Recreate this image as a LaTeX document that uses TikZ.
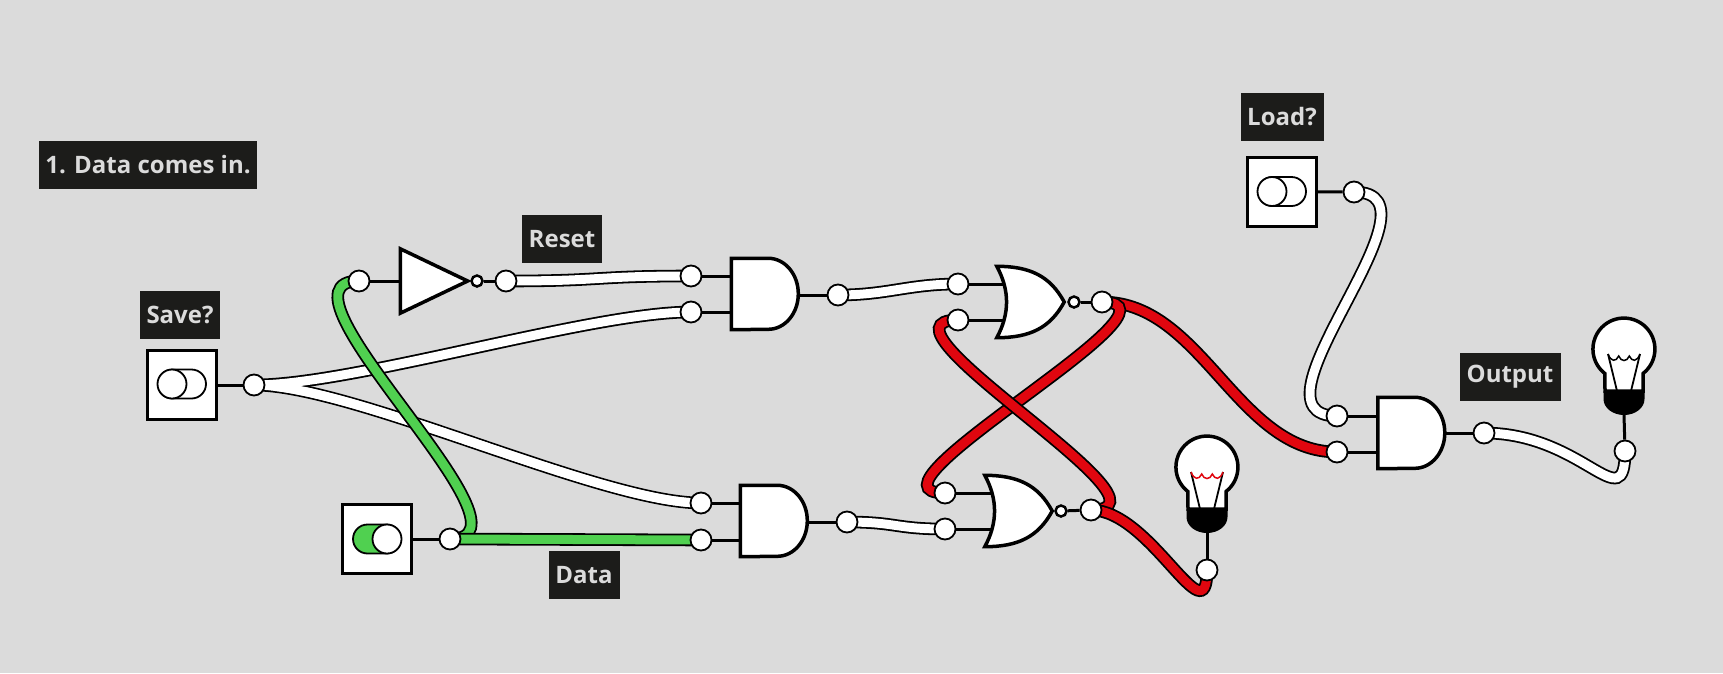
\documentclass[tikz,border=0pt]{standalone}
\usepackage{fontspec}
\setmainfont{Open Sans}
\usetikzlibrary{backgrounds,shapes.misc}
\definecolor{backdrop}{HTML}{DBDBDB}
\definecolor{tagdark}{HTML}{1C1C1A}
\definecolor{wiregreen}{HTML}{50D050}
\definecolor{wirered}{HTML}{E0060F}
\tikzset{
  x=1pt,y=-1pt,
  pin/.style={circle,draw,fill=white,line width=1.8pt,minimum size=21pt,inner sep=0pt},
  wire/.style={line width=1.8pt,double=#1,double distance=9pt},
  stub/.style={line width=3pt},
  tag/.style={fill=tagdark,text=backdrop,font=\fontsize{24}{24}\selectfont\bfseries,
    minimum height=48pt,inner sep=0pt},
  gateline/.style={draw,fill=white,line width=3.5pt,line join=miter},
  andgate/.style={inner sep=0pt,minimum width=67pt,minimum height=71pt,
    append after command={\pgfextra{
      \draw[gateline] (\tikzlastnode.north west) -- ++(37,0)
        arc[start angle=-90,end angle=90,x radius=30,y radius=35.5]
        -- (\tikzlastnode.south west) -- cycle;}}},
  norgate/.style={inner sep=0pt,minimum width=67pt,minimum height=71pt,
    append after command={\pgfextra{
      \draw[gateline] (\tikzlastnode.north west) .. controls +(33,0) and +(-14,-26) .. (\tikzlastnode.east)
        .. controls +(-14,26) and +(33,0) .. (\tikzlastnode.south west)
        .. controls +(13,-24) and +(13,24) .. (\tikzlastnode.north west) -- cycle;}}},
  notgate/.style={inner sep=0pt,minimum width=67pt,minimum height=64pt,
    append after command={\pgfextra{
      \draw[gateline] (\tikzlastnode.north west) -- (\tikzlastnode.east)
        -- (\tikzlastnode.south west) -- cycle;}}},
  bubble/.style={circle,draw,fill=white,line width=2.5pt,minimum size=11pt,inner sep=0pt},
  switchbox/.style={draw,fill=white,line width=3pt,minimum size=69pt,inner sep=0pt},
  track/.style={rounded rectangle,draw,fill=#1,line width=1.8pt,minimum width=48pt,
    minimum height=29pt,inner sep=0pt},
  knob/.style={circle,draw,fill=white,line width=1.8pt,minimum size=29pt,inner sep=0pt},
  pics/lamp/.style={code={
    \draw[line width=3.5pt,fill=white] (19,42) -- (19,24.5)
      arc[start angle=52,end angle=-232,radius=31] -- (-19,42) -- cycle;
    \fill (-20.5,42) -- (-20.5,50) arc[x radius=20.5,y radius=16,start angle=180,end angle=0]
      -- (20.5,42) -- cycle;
    \draw[line width=1.8pt] (-16,5) -- (-7,42) (16,5) -- (7,42);
    \draw[#1,line width=1.5pt] (-16,5) .. controls (-13,13) and (-8,13) .. (-5.3,7)
      .. controls (-3,13) and (3,13) .. (5.3,7) .. controls (8,13) and (13,13) .. (16,5);
    \coordinate (-socket) at (0,66);
  }},
}
\begin{document}
\begin{tikzpicture}
  \path[use as bounding box] (0,0) rectangle (1723,673);

  \node[tag,minimum width=218pt] (title) at (148,165) {1. Data comes in.};
  \node[tag,minimum width=80pt] (savetag) at (180,315) {Save?};
  \node[tag,minimum width=80pt] (resettag) at (562,239) {Reset};
  \node[tag,minimum width=71pt] (datatag) at (584,575) {Data};
  \node[tag,minimum width=83pt] (loadtag) at (1282,117) {Load?};
  \node[tag,minimum width=101pt] (outputtag) at (1510,377) {Output};

  \node[switchbox] (saveswitch) at (182,385) {};
  \node[track=white] (savetrack) at (182,384) {};
  \node[knob] (saveknob) at (172,384) {};
  \node[switchbox] (dataswitch) at (377,539) {};
  \node[track=wiregreen] (datatrack) at (377,539) {};
  \node[knob] (dataknob) at (387,539) {};
  \node[switchbox] (loadswitch) at (1282,191.5) {};
  \node[track=white] (loadtrack) at (1282,191.5) {};
  \node[knob] (loadknob) at (1272,191.5) {};

  \node[pin] (saveout) at (254,385) {};
  \node[pin] (dataout) at (450,539) {};
  \node[pin] (loadout) at (1354,192) {};
  \node[pin] (invin) at (359,281) {};
  \node[pin] (invout) at (506,281) {};
  \node[pin] (andAa) at (691,276) {};
  \node[pin] (andAb) at (691,312) {};
  \node[pin] (andAout) at (838,295) {};
  \node[pin] (andBa) at (701,503) {};
  \node[pin] (andBb) at (701,540) {};
  \node[pin] (andBout) at (847,522) {};
  \node[pin] (norAa) at (958,284) {};
  \node[pin] (norAb) at (958,320) {};
  \node[pin] (norAout) at (1102,302) {};
  \node[pin] (norBa) at (945,493) {};
  \node[pin] (norBb) at (945,529) {};
  \node[pin] (norBout) at (1091,510) {};
  \node[pin] (andCa) at (1337,416) {};
  \node[pin] (andCb) at (1337,452) {};
  \node[pin] (andCout) at (1484,433) {};
  \node[pin] (lampAin) at (1207,570) {};
  \node[pin] (lampBin) at (1625,451) {};

  \node[notgate] (inv) at (434,281) {};
  \node[bubble] (invdot) at (477,281) {};
  \node[andgate] (andA) at (765,294) {};
  \node[andgate] (andB) at (774,521) {};
  \node[andgate] (andC) at (1411.5,433) {};
  \node[norgate] (norA) at (1030.5,302) {};
  \node[bubble] (norAdot) at (1074,302) {};
  \node[norgate] (norB) at (1018.5,511) {};
  \node[bubble] (norBdot) at (1061,511) {};

  \pic (lampA) at (1207,467) {lamp=wirered};
  \pic (lampB) at (1624,349) {lamp=black};

  \begin{scope}[on background layer]
    \fill[backdrop] (0,0) rectangle (1723,673);
    \draw[stub] (saveswitch) -- (saveout);
    \draw[stub] (dataswitch) -- (dataout);
    \draw[stub] (loadswitch) -- (loadout);
    \draw[stub] (invin) -- (inv);
    \draw[stub] (invdot) -- (invout);
    \draw[stub] (andAa) -- (andAa -| andA);
    \draw[stub] (andAb) -- (andAb -| andA);
    \draw[stub] (andAout) -- (andAout -| andA);
    \draw[stub] (andBa) -- (andBa -| andB);
    \draw[stub] (andBb) -- (andBb -| andB);
    \draw[stub] (andBout) -- (andBout -| andB);
    \draw[stub] (andCa) -- (andCa -| andC);
    \draw[stub] (andCb) -- (andCb -| andC);
    \draw[stub] (andCout) -- (andCout -| andC);
    \draw[stub] (norAa) -- (norAa -| norA);
    \draw[stub] (norAb) -- (norAb -| norA);
    \draw[stub] (norAout) -- (norAdot);
    \draw[stub] (norBa) -- (norBa -| norB);
    \draw[stub] (norBb) -- (norBb -| norB);
    \draw[stub] (norBout) -- (norBdot);
    \draw[stub] (lampAin) -- (lampA-socket);
    \draw[stub] (lampBin) -- (lampB-socket);

    \draw[wire=white] (saveout.center) .. controls +(100,0) and +(-100,0) .. (andBa.center);
    \draw[wire=white] (saveout.center) .. controls +(100,0) and +(-100,0) .. (andAb.center);
    \draw[white,line width=9pt] (saveout.center) .. controls +(100,0) and +(-100,0) .. (andBa.center);
    \draw[wire=wiregreen] (dataout.center) .. controls +(100,0) and +(-100,0) .. (invin.center);
    \draw[wire=wiregreen] (dataout.center) -- (andBb.center);
    \draw[wire=white] (invout.center) .. controls +(100,0) and +(-100,0) .. (andAa.center);
    \draw[wire=white] (andAout.center) .. controls +(50,0) and +(-50,0) .. (norAa.center);
    \draw[wire=white] (andBout.center) .. controls +(50,0) and +(-50,0) .. (norBb.center);
    \draw[wire=white] (loadout.center) .. controls +(100,0) and +(-100,0) .. (andCa.center);
    \draw[wire=white] (andCout.center) .. controls +(100,0) and +(0,70) .. (lampBin.center);
    \draw[wire=wirered] (norAout.center) .. controls +(100,0) and +(-100,0) .. (andCb.center);
    \draw[wire=wirered] (norAout.center) .. controls +(100,0) and +(-100,0) .. (norBa.center);
    \draw[wire=wirered] (norBout.center) .. controls +(100,0) and +(-100,0) .. (norAb.center);
    \draw[wire=wirered] (norBout.center) .. controls +(60,0) and +(0,70) .. (lampAin.center);
  \end{scope}
\end{tikzpicture}
\end{document}
